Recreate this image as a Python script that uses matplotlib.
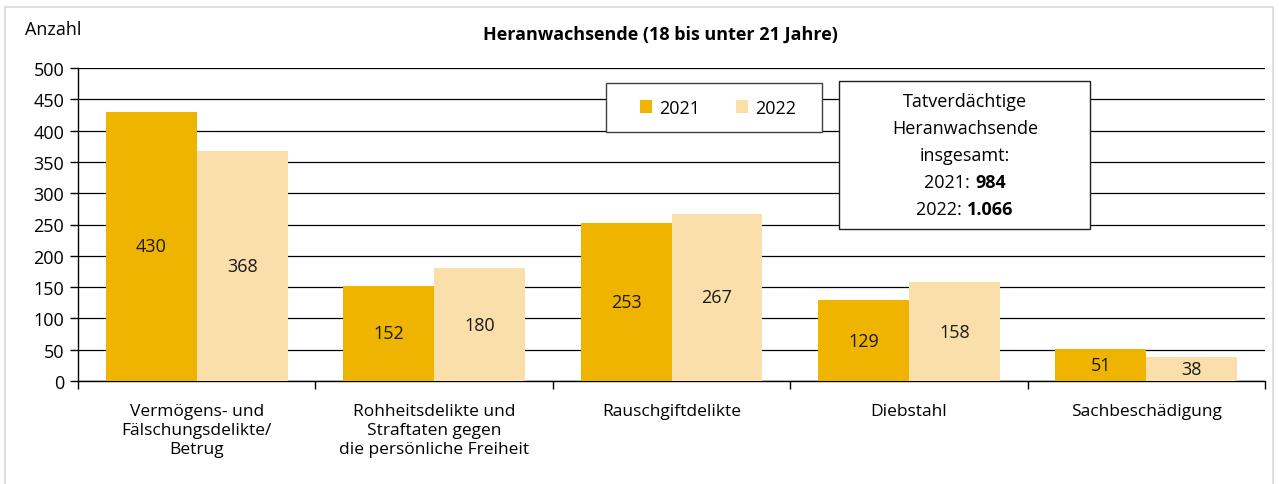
import numpy as np
import matplotlib.pyplot as plt
from matplotlib.patches import Rectangle, Patch

plt.rcParams['font.family'] = ['Open Sans', 'DejaVu Sans']

categories = ['Vermögens- und\nFälschungsdelikte/\nBetrug',
              'Rohheitsdelikte und\nStraftaten gegen\ndie persönliche Freiheit',
              'Rauschgiftdelikte',
              'Diebstahl',
              'Sachbeschädigung']
values_2021 = [430, 152, 253, 129, 51]
values_2022 = [368, 180, 267, 158, 38]
total_2021 = '984'
total_2022 = '1.066'

c2021 = '#EEB400'
c2022 = '#FADFAA'

W, H = 1279, 485
fig = plt.figure(figsize=(W / 100, H / 100), dpi=100)
ax = fig.add_axes([78 / W, 1 - 382 / H, (1265 - 78) / W, (382 - 69) / H])

# light outer frame
fig.patches.append(Rectangle((5 / W, -0.01), (1273 - 5) / W, 1 - 8 / H + 0.01,
                             transform=fig.transFigure, fill=False,
                             edgecolor='#D9D9D9', linewidth=1.2))

x = np.arange(len(categories))
bw = 0.383
b1 = ax.bar(x - bw / 2, values_2021, width=bw, color=c2021, zorder=3)
b2 = ax.bar(x + bw / 2, values_2022, width=bw, color=c2022, zorder=3)

for bars, vals in ((b1, values_2021), (b2, values_2022)):
    for rect, v in zip(bars, vals):
        ax.text(rect.get_x() + rect.get_width() / 2, v / 2, str(v),
                ha='center', va='center', fontsize=13, color='#1A1A1A', zorder=4)

ax.set_xlim(-0.5, len(categories) - 0.5)
ax.set_ylim(0, 500)
ax.set_yticks(np.arange(0, 501, 50))
ax.yaxis.grid(True, color='black', linewidth=0.9, zorder=0)
ax.set_axisbelow(True)

ax.set_xticks(np.arange(-0.5, len(categories), 1))
ax.set_xticklabels([])
ax.set_xticks(x, minor=True)
ax.set_xticklabels(categories, minor=True, fontsize=12.5, linespacing=1.25)
ax.tick_params(axis='x', which='minor', length=0, pad=16)
ax.tick_params(axis='x', which='major', length=6, width=1, direction='out')
ax.tick_params(axis='y', length=6, width=1, direction='out', labelsize=13, pad=4)

for s in ('top', 'right'):
    ax.spines[s].set_visible(False)
ax.spines['left'].set_linewidth(1)
ax.spines['bottom'].set_linewidth(1)

fig.text(25 / W, 1 - 30 / H, 'Anzahl', fontsize=13, ha='left', va='center')
fig.text(660 / W, 1 - 35 / H, 'Heranwachsende (18 bis unter 21 Jahre)',
         fontsize=13, fontweight='bold', ha='center', va='center')

# legend with separate frame
fig.patches.append(Rectangle((606 / W, 1 - 133 / H), 216 / W, 49 / H,
                             transform=fig.transFigure, facecolor='white',
                             edgecolor='#404040', linewidth=1, zorder=5))
handles = [Patch(facecolor=c2021, label='2021'), Patch(facecolor=c2022, label='2022')]
leg = fig.legend(handles=handles, loc='center', ncol=2, fontsize=13,
                 bbox_to_anchor=(718 / W, 1 - 108.5 / H), frameon=False,
                 handlelength=0.7, handleheight=0.7, handletextpad=0.4,
                 columnspacing=1.95, borderpad=0, borderaxespad=0)
leg.set_zorder(6)

# totals box
fig.patches.append(Rectangle((839 / W, 1 - 230 / H), (1090 - 839) / W, (230 - 82) / H,
                             transform=fig.transFigure, facecolor='white',
                             edgecolor='#202020', linewidth=1, zorder=5))
cx = 965
lines = ['Tatverdächtige', 'Heranwachsende', 'insgesamt:']
for i, t in enumerate(lines):
    fig.text(cx / W, 1 - (102 + i * 27) / H, t, fontsize=13, ha='center', va='center', zorder=6)

renderer = fig.canvas.get_renderer()
for j, (yr, tot) in enumerate((('2021: ', total_2021), ('2022: ', total_2022))):
    yy = 1 - (183 + j * 27) / H
    t1 = fig.text(0, yy, yr, fontsize=13, ha='left', va='center', zorder=6)
    t2 = fig.text(0, yy, tot, fontsize=13, fontweight='bold', ha='left', va='center', zorder=6)
    w1 = t1.get_window_extent(renderer).width
    w2 = t2.get_window_extent(renderer).width
    x0 = cx - (w1 + w2) / 2
    t1.set_x(x0 / W)
    t2.set_x((x0 + w1) / W)

fig.savefig('out.png', dpi=100)
